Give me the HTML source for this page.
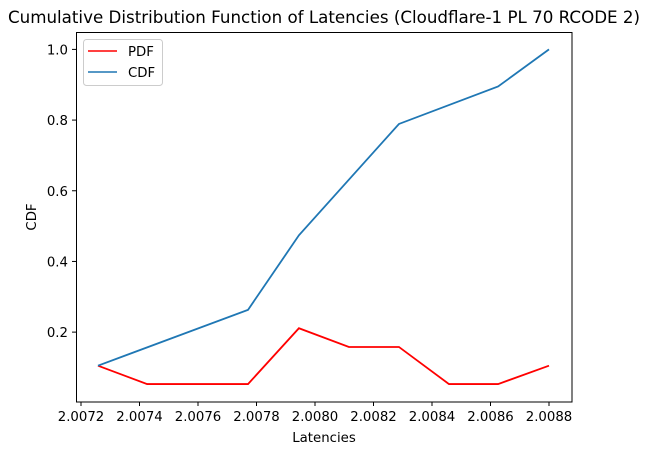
<!DOCTYPE html>
<html><head><meta charset="utf-8"><style>
html,body{margin:0;padding:0;background:#fff;}
svg{display:block;font-family:"DejaVu Sans","Liberation Sans",sans-serif;}
</style></head><body>
<svg id="chart" width="648" height="455">
<text x="324" y="23" text-anchor="middle" font-size="16.7">Cumulative Distribution Function of Latencies (Cloudflare-1 PL 70 RCODE 2)</text>
<g id="xt"></g>
<g id="yt"></g>
<g id="lines"></g>
<rect x="76.5" y="32.5" width="495.5" height="369.5" fill="none" stroke="#000" stroke-width="1"/>
<text x="324" y="442" text-anchor="middle" font-size="13.3">Latencies</text>
<text x="36" y="217" text-anchor="middle" font-size="13.3" transform="rotate(-90 36 217)">CDF</text>
<g>
<rect x="83.5" y="39.5" width="79" height="46" rx="3" fill="#fff" stroke="#ccc"/>
<line x1="88" y1="51" x2="117" y2="51" stroke="red" stroke-width="1.5"/>
<text x="128" y="56" font-size="13.3">PDF</text>
<line x1="88" y1="72" x2="117" y2="72" stroke="#1f77b4" stroke-width="1.5"/>
<text x="128" y="77" font-size="13.3">CDF</text>
</g>
</svg>
<script>
const pdfX=[2.007258,2.007426,2.007771,2.007945,2.008116,2.008287,2.008458,2.008626,2.0088];
const pdfY=[0.105,0.053,0.053,0.211,0.158,0.158,0.053,0.053,0.105];
const cdfX=[2.007258,2.007771,2.007945,2.008287,2.008626,2.0088];
const cdfY=[0.105,0.263,0.474,0.789,0.895,1.0];
const xTicks=[2.0072,2.0074,2.0076,2.0078,2.0080,2.0082,2.0084,2.0086,2.0088];
const yTicks=[0.2,0.4,0.6,0.8,1.0];
const NS="http://www.w3.org/2000/svg";
function sx(v){return 81+(v-2.0072)/0.0001*29.25;}
function sy(v){return 402.8-v*353.4;}
const xt=document.getElementById('xt'),yt=document.getElementById('yt'),lg=document.getElementById('lines');
xTicks.forEach(t=>{
const l=document.createElementNS(NS,'line');
l.setAttribute('x1',sx(t));l.setAttribute('x2',sx(t));l.setAttribute('y1',402);l.setAttribute('y2',406);l.setAttribute('stroke','#000');


xt.appendChild(l);
const tx=document.createElementNS(NS,'text');
tx.setAttribute('x',sx(t));tx.setAttribute('y',421);tx.setAttribute('text-anchor','middle');tx.setAttribute('font-size','13.3');
tx.textContent=t.toFixed(4);


xt.appendChild(tx);
});
yTicks.forEach(t=>{
const l=document.createElementNS(NS,'line');
l.setAttribute('x1',72);l.setAttribute('x2',76);l.setAttribute('y1',sy(t));l.setAttribute('y2',sy(t));l.setAttribute('stroke','#000');


yt.appendChild(l);
const tx=document.createElementNS(NS,'text');
tx.setAttribute('x',68);tx.setAttribute('y',sy(t)+5);tx.setAttribute('text-anchor','end');tx.setAttribute('font-size','13.3');
tx.textContent=t.toFixed(1);


yt.appendChild(tx);
});
function line(xs,ys,color,name){
const p=document.createElementNS(NS,'polyline');
p.setAttribute('points',xs.map((x,i)=>sx(x)+','+sy(ys[i])).join(' '));
p.setAttribute('fill','none');p.setAttribute('stroke',color);p.setAttribute('stroke-width','1.8');


lg.appendChild(p);
}
line(pdfX,pdfY,'red','pdf-line');
line(cdfX,cdfY,'#1f77b4','cdf-line');
</script>
</body></html>
